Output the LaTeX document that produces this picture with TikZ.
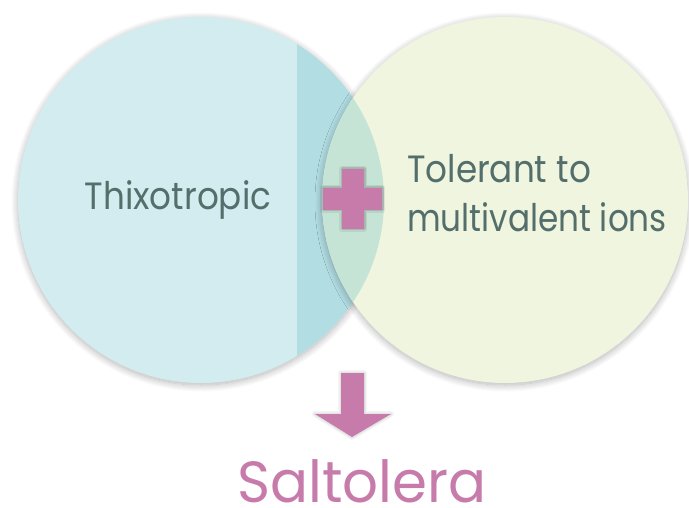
\documentclass[tikz,border=0pt]{standalone}
\usepackage{fontspec}
\setmainfont{Poppins}
\newfontfamily\labelfont[FakeStretch=0.9]{Poppins}
\newfontfamily\labelfontn[FakeStretch=0.86]{Poppins}
\newfontfamily\titlefont[FakeStretch=0.97]{Poppins}
\usetikzlibrary{shadows.blur}
\definecolor{cLight}{HTML}{D3ECF0}
\definecolor{cBand}{HTML}{B1DDE3}
\definecolor{cRight}{HTML}{EFF5DF}
\definecolor{cLens}{HTML}{C6E4D5}
\definecolor{cPink}{HTML}{C67BAB}
\definecolor{cText}{HTML}{546E6B}
\tikzset{
  bubble/.style={circle, inner sep=0pt, minimum size=366pt},
  softshadow/.style={blur shadow={shadow xshift=0pt, shadow yshift=-2pt, shadow blur radius=7pt, shadow opacity=30, shadow blur steps=16}},
  halo/.style={draw=black!70, line join=round, draw opacity=#1},
  label/.style={text=cText, font=\labelfont\fontsize{38}{49}\selectfont, inner sep=0pt},
  plusshape/.pic={\path[pic actions] (-11,-30) -- (11,-30) -- (11,-11) -- (29,-11) -- (29,11) -- (11,11) -- (11,30) -- (-11,30) -- (-11,11) -- (-30,11) -- (-30,-11) -- (-11,-11) -- cycle;},
  arrowshape/.pic={\path[pic actions] (-11,0) -- (12,0) -- (12,41) -- (39,41) -- (0,64) -- (-37,41) -- (-11,41) -- cycle;},
}
\begin{document}
\begin{tikzpicture}[x=1pt,y=-1pt]
\useasboundingbox (0,0) rectangle (689,508);
% left circle
\node[bubble, fill=cLight, softshadow] (L) at (201,200) {};
\begin{scope}
  \clip (L.center) circle (183);
  \fill[cBand] (297,0) rectangle (400,400);
\end{scope}
% right circle
\node[bubble, fill=cRight, softshadow] (R) at (505,200) {};
% lens
\begin{scope}
  \clip (L.center) circle (183);
  \fill[cLens] (R.center) circle (183);
\end{scope}
% plus
\coordinate (P) at (353,199);
\pic[halo=0.10, line width=6pt] at (P) {plusshape};
\pic[halo=0.18, line width=3pt] at (P) {plusshape};
\pic[fill=cPink] at (P) {plusshape};
% labels
\node[label, anchor=base] (T) at (178,210) {Thixotropic};
\node[label, anchor=base west, align=left] (M) at (407,232) {Tolerant to\\{\labelfontn multivalent ions}};
% arrow
\coordinate (A) at (352,373);
\pic[halo=0.06, line width=6pt] at (A) {arrowshape};
\pic[halo=0.10, line width=3pt] at (A) {arrowshape};
\pic[fill=cPink] at (A) {arrowshape};
\node[text=cPink, font=\titlefont\fontsize{58}{60}\selectfont, inner sep=0pt, text depth=0pt, anchor=base] (S) at (362,502) {Saltolera};
\end{tikzpicture}
\end{document}
